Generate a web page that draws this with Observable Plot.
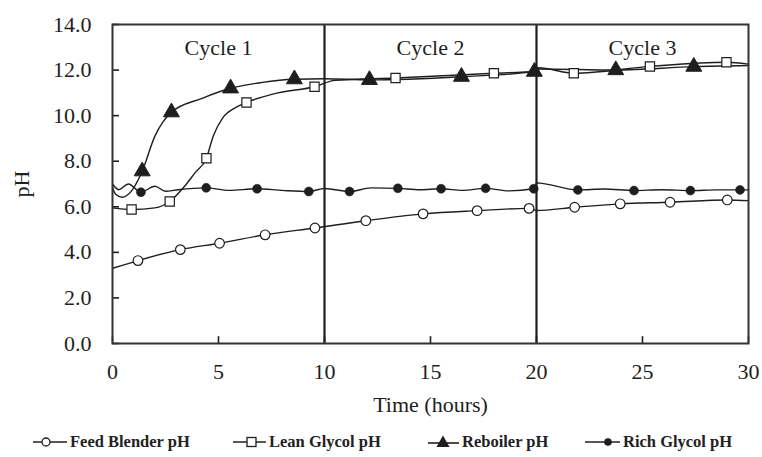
<!DOCTYPE html>
<html><head><meta charset="utf-8">
<script src="https://cdn.jsdelivr.net/npm/d3@7"></script>
<script src="https://cdn.jsdelivr.net/npm/@observablehq/plot@0.6"></script>
<style>
body{margin:0;background:#fff;}
#wrap{position:relative;width:762px;height:457px;font-family:"Liberation Serif","Times New Roman",serif;overflow:hidden;}
#legend{position:absolute;top:430px;left:0;width:762px;height:24px;}
.item{position:absolute;top:0;height:24px;display:flex;align-items:center;font-size:16.5px;font-weight:bold;color:#222;white-space:nowrap;}
.item svg{margin-right:3px;}
</style></head><body><div id="wrap"><div id="chart"></div><div id="legend"></div></div>
<script>
// ---- data ----
const xTicks = [0, 5, 10, 15, 20, 25, 30];
const yTicks = [0, 2, 4, 6, 8, 10, 12, 14];
const cycleBounds = [10, 20];
const cycleNames = ["Cycle 1", "Cycle 2", "Cycle 3"];
const cycleMid = [5, 15, 25];
const seriesNames = ["Feed Blender pH", "Lean Glycol pH", "Reboiler pH", "Rich Glycol pH"];

// marker points
const feedT  = [1.2, 3.2, 5.05, 7.2, 9.55, 11.95, 14.65, 17.2, 19.65, 21.8, 23.95, 26.3, 29.0];
const feedPH = [3.64, 4.12, 4.4, 4.77, 5.07, 5.39, 5.69, 5.83, 5.93, 5.98, 6.13, 6.2, 6.3];
const leanT  = [0.9, 2.7, 4.43, 6.32, 9.53, 13.35, 17.99, 21.76, 25.35, 28.96];
const leanPH = [5.88, 6.23, 8.13, 10.58, 11.27, 11.65, 11.86, 11.86, 12.16, 12.34];
const reboT  = [1.4, 2.78, 5.57, 8.58, 12.12, 16.46, 19.9, 23.74, 27.42];
const reboPH = [7.56, 10.15, 11.2, 11.6, 11.57, 11.71, 11.93, 12.0, 12.15];
const richT  = [1.34, 4.42, 6.82, 9.26, 11.18, 13.46, 15.5, 17.6, 19.87, 21.95, 24.6, 27.26, 29.6];
const richPH = [6.64, 6.83, 6.79, 6.67, 6.67, 6.81, 6.79, 6.81, 6.79, 6.74, 6.71, 6.71, 6.74];

// continuous traces
const feedLineT  = [0, 1.2, 3.2, 5.05, 7.2, 9.55, 11.95, 14.65, 17.2, 19.65, 20.0, 21.8, 23.95, 26.3, 29.0, 30];
const feedLinePH = [3.3, 3.64, 4.12, 4.4, 4.77, 5.07, 5.39, 5.69, 5.83, 5.93, 5.84, 5.98, 6.13, 6.2, 6.3, 6.27];
const leanLineT  = [0, 0.9, 2.0, 2.7, 3.4, 3.9, 4.43, 4.75, 5.2, 5.8, 6.32, 7.8, 9.53, 10.5, 13.35, 17.99, 20.0, 20.1, 21.76, 25.35, 28.96, 30];
const leanLinePH = [5.95, 5.88, 5.95, 6.23, 6.9, 7.5, 8.13, 9.1, 9.9, 10.35, 10.58, 11.0, 11.27, 11.55, 11.65, 11.86, 11.95, 12.1, 11.86, 12.16, 12.34, 12.26];
const reboLineT  = [0, 0.15, 0.45, 0.9, 1.4, 2.0, 2.78, 4.2, 5.57, 7.0, 8.58, 10.0, 12.12, 16.46, 19.9, 20.05, 23.74, 27.42, 30];
const reboLinePH = [6.85, 6.55, 6.42, 6.7, 7.56, 9.1, 10.15, 10.75, 11.2, 11.45, 11.6, 11.62, 11.57, 11.71, 11.93, 12.05, 12.0, 12.15, 12.2];
const richLineT  = [0, 0.3, 0.75, 1.34, 2.0, 2.5, 3.1, 4.42, 5.5, 6.82, 8.0, 9.26, 10.0, 10.5, 11.18, 12.2, 13.46, 14.5, 15.5, 16.5, 17.6, 18.7, 19.87, 20.0, 21.95, 23.2, 24.6, 25.9, 27.26, 28.5, 29.6, 30];
const richLinePH = [7.0, 6.75, 7.0, 6.64, 6.9, 6.68, 6.75, 6.83, 6.72, 6.79, 6.72, 6.67, 6.8, 6.75, 6.67, 6.83, 6.81, 6.75, 6.79, 6.72, 6.81, 6.7, 6.79, 7.05, 6.74, 6.78, 6.71, 6.75, 6.71, 6.74, 6.74, 6.74];

const zip = (xs, ys) => xs.map((x, i) => ({x, y: ys[i]}));
const ink = "#1e1e1e";

const lineOpts = {x: "x", y: "y", curve: "monotone-x", stroke: ink, strokeWidth: 1.4};

const chart = Plot.plot({
  width: 762, height: 420,
  marginLeft: 112, marginRight: 14, marginTop: 24, marginBottom: 77,
  style: {fontFamily: "'Liberation Serif', 'Times New Roman', serif", fontSize: "22px", color: ink, background: "#fff"},
  x: {domain: [0, 30]},
  y: {domain: [0, 14]},
  marks: [
    Plot.axisX({ticks: xTicks, tickSize: 0, tickPadding: 20,
      label: "Time (hours)", labelAnchor: "center", labelOffset: 68, labelArrow: "none"}),
    Plot.axisY({ticks: yTicks, tickSize: 0, tickPadding: 21, tickFormat: d => d.toFixed(1),
      label: "pH", labelAnchor: "center", labelOffset: 99, labelArrow: "none"}),
    // inward-pointing ticks (short rules from the axis line)
    Plot.ruleX(xTicks, {x: d => d, y1: 0, y2: 0.3, stroke: ink, strokeWidth: 1.6}),
    Plot.ruleY(yTicks, {y: d => d, x1: 0, x2: 0.33, stroke: ink, strokeWidth: 1.6}),
    Plot.ruleX(cycleBounds, {stroke: ink, strokeWidth: 2.2}),
    Plot.line(zip(feedLineT, feedLinePH), lineOpts),
    Plot.line(zip(leanLineT, leanLinePH), lineOpts),
    Plot.line(zip(reboLineT, reboLinePH), lineOpts),
    Plot.line(zip(richLineT, richLinePH), lineOpts),
    Plot.dot(zip(feedT, feedPH), {x: "x", y: "y", r: 4.8, fill: "#fff", stroke: ink, strokeWidth: 1.2}),
    Plot.dot(zip(leanT, leanPH), {x: "x", y: "y", symbol: "square", r: 5.2, fill: "#fff", stroke: ink, strokeWidth: 1.2}),
    Plot.dot(zip(reboT, reboPH), {x: "x", y: "y", symbol: "triangle", r: 5.9, fill: ink, stroke: ink, strokeWidth: 1}),
    Plot.dot(zip(richT, richPH), {x: "x", y: "y", r: 4.5, fill: ink, stroke: ink, strokeWidth: 0.5}),
    Plot.text(cycleNames, {x: (d, i) => cycleMid[i], y: 12.95, text: d => d, fill: ink, fontSize: 22}),
    Plot.frame({stroke: "#333", strokeWidth: 2})
  ]
});
document.getElementById("chart").appendChild(chart);

// ---- legend ----
const legendLeft = [33, 233, 428, 585];
const symbolSvg = [
  '<svg width="34" height="14"><line x1="0" y1="7" x2="34" y2="7" stroke="' + ink + '" stroke-width="1.6"/><circle cx="13" cy="7" r="4" fill="#fff" stroke="' + ink + '" stroke-width="1.3"/></svg>',
  '<svg width="33" height="14"><line x1="0" y1="7" x2="33" y2="7" stroke="' + ink + '" stroke-width="1.6"/><rect x="14" y="2.5" width="9" height="9" fill="#fff" stroke="' + ink + '" stroke-width="1.3"/></svg>',
  '<svg width="31" height="16"><line x1="0" y1="9" x2="31" y2="9" stroke="' + ink + '" stroke-width="1.6"/><path d="M15,1.5L21.5,13L8.5,13Z" fill="' + ink + '"/></svg>',
  '<svg width="35" height="14"><line x1="0" y1="7" x2="35" y2="7" stroke="' + ink + '" stroke-width="1.6"/><circle cx="23" cy="7" r="3.8" fill="' + ink + '"/></svg>'
];
const legend = document.getElementById("legend");
seriesNames.forEach((name, i) => {
  const el = document.createElement("div");
  el.className = "item";
  el.style.left = legendLeft[i] + "px";
  el.innerHTML = symbolSvg[i] + "<span>" + name + "</span>";
  legend.appendChild(el);
});
</script>
</body></html>
